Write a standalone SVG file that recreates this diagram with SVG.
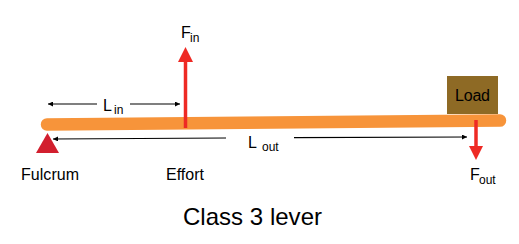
<svg xmlns="http://www.w3.org/2000/svg" width="519" height="244" viewBox="0 0 519 244">
<defs>
<style>
text{font-family:"Liberation Sans",Arial,sans-serif;fill:#000}
.lbl{font-size:16px}
.sub{font-size:12px}
.dim{stroke:#000;stroke-width:1.2;fill:none}
.force{stroke:#EE2A24;stroke-width:3.5;fill:none}
</style>
<marker id="ah" viewBox="0 0 10 10" refX="10" refY="5" markerWidth="7" markerHeight="5" markerUnits="userSpaceOnUse" orient="auto">
<path d="M0,0 L10,5 L0,10 Z" fill="#000"/>
</marker>
</defs>
<rect width="519" height="244" fill="#fff"/>
<g id="lever">
<line x1="47" y1="124.5" x2="500" y2="120.5" stroke="#F7943A" stroke-width="12.5" stroke-linecap="round"/>
</g>
<g id="fulcrum">
<polygon points="47.5,133 59,153 36,153" fill="#D21F2E"/>
<text class="lbl" x="21" y="180" textLength="58">Fulcrum</text>
</g>
<g id="load">
<rect x="447" y="76" width="51" height="38" fill="#8E6A25"/>
<text class="lbl" x="455" y="101" textLength="35">Load</text>
</g>
<g id="effort">
<text class="lbl" x="185" y="180" text-anchor="middle" font-size="17">Effort</text>
</g>
<g id="connectors">
<line class="force" x1="185.5" y1="128" x2="185.5" y2="60"/>
<polygon points="185.5,47 193,62 178,62" fill="#EE2A24"/>
<line class="force" x1="476" y1="120" x2="476" y2="147"/>
<polygon points="476,160 483,146 469,146" fill="#EE2A24"/>
<line class="dim" x1="97" y1="104" x2="48" y2="104" marker-end="url(#ah)"/>
<line class="dim" x1="130" y1="104" x2="180" y2="104" marker-end="url(#ah)"/>
<line class="dim" x1="226" y1="138" x2="53" y2="139" marker-end="url(#ah)"/>
<line class="dim" x1="294" y1="137.7" x2="467" y2="137" marker-end="url(#ah)"/>
</g>
<g id="labels">
<text class="lbl" x="181" y="38">F<tspan class="sub" x="190" y="42">in</tspan></text>
<text class="lbl" x="103" y="111">L<tspan class="sub" x="114" y="114">in</tspan></text>
<text class="lbl" x="248" y="148">L<tspan class="sub" x="262" y="151">out</tspan></text>
<text class="lbl" x="470" y="180">F<tspan class="sub" x="479" y="184">out</tspan></text>
<text x="183" y="225" font-size="24" textLength="139">Class 3 lever</text>
</g>
</svg>
